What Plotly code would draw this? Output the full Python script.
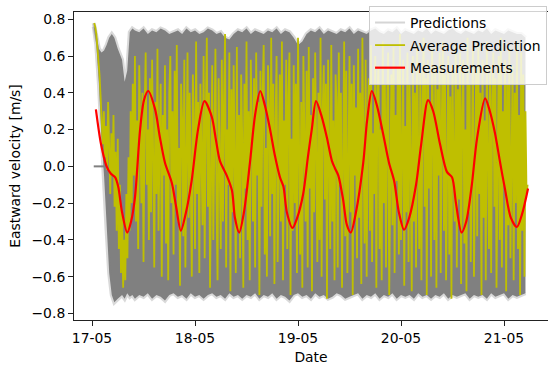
import pandas as pd
import plotly.graph_objects as go

# ---------------- data (hours after 17-05 00:00) ----------------
meas_hours = [0.9, 2.1, 3.4, 4.4, 5.4, 6.1, 7.0, 8.2, 9.1, 10.0, 11.2, 12.1, 13.1, 14.7,
              15.8, 17.0, 18.6, 19.6, 20.7, 21.9, 23.2, 24.7, 26.2, 27.9, 28.9, 29.8,
              31.4, 32.6, 33.3, 34.3, 35.4, 36.8, 38.0, 39.2, 40.3, 41.5, 42.6, 43.8,
              44.6, 45.4, 46.7, 47.8, 49.2, 50.3, 51.2, 52.2, 53.4, 54.7, 55.9, 56.6,
              57.4, 58.5, 59.4, 60.3, 61.5, 63.2, 64.1, 65.2, 66.4, 67.8, 69.2, 70.4,
              71.5, 72.7, 73.9, 75.5, 76.7, 78.3, 79.5, 81.1, 82.7, 83.9, 84.8, 86.1,
              87.2, 88.5, 89.7, 91.6, 92.7, 93.9, 95.1, 96.2, 97.6, 99.0, 100.2, 101.6]
meas_vals = [0.31, 0.12, 0.00, -0.04, -0.06, -0.11, -0.25, -0.36, -0.30, -0.17, 0.20, 0.36,
             0.41, 0.31, 0.16, 0.02, -0.09, -0.22, -0.35, -0.25, -0.08, 0.20, 0.355, 0.27,
             0.14, 0.03, -0.05, -0.13, -0.28, -0.36, -0.25, 0.02, 0.28, 0.41, 0.33, 0.20,
             0.06, -0.06, -0.11, -0.25, -0.335, -0.28, -0.15, 0.05, 0.20, 0.355, 0.28, 0.16,
             0.03, -0.01, -0.05, -0.18, -0.32, -0.36, -0.25, 0.02, 0.25, 0.41, 0.33, 0.18,
             0.02, -0.08, -0.25, -0.345, -0.28, -0.10, 0.12, 0.36, 0.30, 0.12, -0.03, -0.06,
             -0.20, -0.36, -0.30, -0.10, 0.15, 0.37, 0.30, 0.18, 0.02, -0.12, -0.28, -0.33,
             -0.26, -0.12]

avg_start_hour = 0.5
avg_step_hours = 0.25
avg_vals = [
    0.78, 0.76, 0.72, 0.66, 0.58, 0.50, 0.38, 0.25, 0.12, 0.30, 0.05, 0.22, -0.02, 0.35, 0.10,
    -0.15, 0.18, -0.05, 0.28, -0.22, 0.08, -0.35, 0.15, -0.45, -0.10, -0.58, -0.25, -0.66, -0.40,
    -0.62, -0.15, -0.50, 0.05, -0.35, 0.30, -0.20, 0.45, -0.05,
    0.60, -0.30, 0.25, -0.45, 0.55, 0.10, -0.20, 0.40, -0.52, 0.30, 0.62, -0.10, 0.20, -0.40, 0.48,
    -0.25, 0.58, 0.05, -0.55, 0.35, -0.15, 0.64, -0.35, 0.15, 0.45, -0.60, 0.28, -0.05, 0.55, -0.42,
    0.20, -0.62, 0.40, 0.60, -0.20, 0.30, -0.48, 0.52, -0.10, 0.66, -0.30, 0.10, -0.65, 0.45, 0.25,
    -0.38, 0.58, -0.55, 0.15, 0.62, -0.28, 0.40, -0.05, -0.60, 0.50, 0.20, -0.45, 0.68, -0.15, 0.35,
    -0.58, 0.45, 0.05, -0.32, 0.60, -0.50, 0.25, 0.70, -0.22, 0.40, -0.66, 0.12, 0.55, -0.40, 0.30,
    0.64, -0.18, -0.62, 0.48, 0.10, -0.45, 0.58, -0.30, 0.35, 0.72, -0.55, 0.20, -0.10, 0.62, -0.68,
    0.42, -0.25, 0.55, 0.00, -0.58, 0.65, -0.35, 0.28, -0.50, 0.50, 0.15, -0.66, 0.45, -0.12, 0.68,
    -0.40, 0.30, -0.62, 0.58, 0.20, -0.30, 0.48, -0.55, 0.62, -0.05, 0.35, -0.70, 0.52, -0.22, 0.40,
    0.66, -0.48, 0.10, -0.60, 0.55, 0.30, -0.38, 0.70, -0.15, 0.45, -0.64, 0.22, 0.60, -0.52, 0.05,
    0.50, -0.30, 0.68, -0.62, 0.25, -0.10, 0.58, -0.45, 0.38, 0.62, -0.70, 0.15, -0.35, 0.55, -0.20,
    0.45, -0.58, 0.70, 0.00, -0.48, 0.35, -0.66, 0.60, 0.20, -0.30, 0.52, -0.55, 0.65, -0.12, 0.28,
    -0.68, 0.48, -0.25, 0.62, 0.10, -0.52, 0.40, -0.40, 0.70, -0.60, 0.30, 0.55, -0.18, 0.45, -0.72,
    0.58, 0.05, -0.45, 0.66, -0.30, 0.25, -0.62, 0.50, 0.35, -0.55, 0.62, -0.10, 0.40, -0.66, 0.20,
    0.68, -0.38, 0.52, -0.58, 0.15, 0.60, -0.25, 0.45, -0.70, 0.55, -0.05, 0.32, -0.50, 0.64, -0.28,
    0.40, -0.64, 0.70, 0.10, -0.42, 0.58, -0.60, 0.25, 0.48, -0.35, 0.66, -0.52, 0.18, -0.15, 0.60,
    -0.66, 0.38, 0.55, -0.45, 0.20, -0.62, 0.68, -0.20, 0.45, -0.55, 0.30, 0.62, -0.70, 0.12, 0.50,
    -0.32, 0.65, -0.58, 0.28, -0.08, 0.55, -0.48, 0.72, -0.40, 0.35, 0.58, -0.65, 0.22, -0.25, 0.62,
    -0.52, 0.45, 0.05, -0.68, 0.60, -0.30, 0.40, -0.55, 0.66, 0.15, -0.45, 0.52, -0.62, 0.30, 0.70,
    -0.22, 0.48, -0.70, 0.58, -0.12, 0.35, -0.60, 0.64, 0.20, -0.40, 0.55, -0.66, 0.42, -0.05, 0.62,
    -0.58, 0.25, 0.68, -0.35, 0.50, -0.62, 0.15, 0.60, -0.48, 0.38, -0.72, 0.55, 0.00, -0.30, 0.66,
    -0.55, 0.42, -0.18, 0.62, -0.64, 0.30, 0.58, -0.42, 0.20, -0.68, 0.70, -0.25, 0.45, -0.52, 0.35,
    0.64, -0.60, 0.10, 0.52, -0.38, 0.66, -0.15, 0.40, -0.70, 0.58, -0.28, 0.25, -0.62, 0.68, 0.05,
    -0.45, 0.55, -0.58, 0.35, 0.62, -0.22, 0.48, -0.66, 0.20, 0.60, -0.40, 0.70, -0.55, 0.30, -0.10,
    0.58, -0.68, 0.45, -0.32, 0.65, -0.50, 0.15, 0.55, -0.62, 0.40, -0.20, 0.68, -0.45, 0.28, -0.70,
    0.62, -0.35, 0.50, -0.60, 0.30, -0.15, -0.10,
]

env_hours = [0.4, 1.0, 1.6, 2.2, 2.8, 3.4, 4.0, 4.6, 5.2, 6.0, 7.0, 7.6, 8.2, 8.8, 9.4] + list(range(10, 102))
env_upper = [0.78, 0.72, 0.64, 0.62, 0.63, 0.66, 0.70, 0.72, 0.70, 0.64, 0.58, 0.46, 0.52, 0.73, 0.75,
             0.74, 0.73, 0.75, 0.72, 0.74, 0.73, 0.75, 0.74, 0.72, 0.73,
             0.74, 0.72, 0.75, 0.73, 0.74, 0.72, 0.73, 0.75, 0.74, 0.72,
             0.73, 0.70, 0.69, 0.72, 0.74, 0.73, 0.75, 0.72, 0.74, 0.73,
             0.72, 0.74, 0.73, 0.75, 0.72, 0.74, 0.73, 0.70, 0.66, 0.68,
             0.72, 0.74, 0.73, 0.75, 0.72, 0.74, 0.73, 0.72, 0.74, 0.73,
             0.75, 0.72, 0.74, 0.73, 0.72, 0.74, 0.75, 0.73, 0.72, 0.74,
             0.73, 0.75, 0.72, 0.74, 0.73, 0.72, 0.74, 0.73, 0.75, 0.72,
             0.74, 0.73, 0.72, 0.74, 0.75, 0.73, 0.72, 0.74, 0.73, 0.72,
             0.74, 0.73, 0.75, 0.72, 0.74, 0.73, 0.72, 0.74, 0.73, 0.72,
             0.72, 0.70]
env_lower = [0.76, 0.66, 0.45, 0.15, -0.05, -0.35, -0.58, -0.70, -0.74, -0.72, -0.70, -0.72, -0.69, -0.71, -0.70,
             -0.72, -0.70, -0.71, -0.69, -0.72, -0.70, -0.71, -0.73, -0.70, -0.69,
             -0.71, -0.70, -0.72, -0.69, -0.71, -0.70, -0.72, -0.70, -0.69, -0.71,
             -0.70, -0.72, -0.69, -0.71, -0.70, -0.72, -0.70, -0.71, -0.69, -0.72,
             -0.70, -0.71, -0.69, -0.72, -0.70, -0.71, -0.73, -0.70, -0.69, -0.71,
             -0.70, -0.72, -0.69, -0.71, -0.70, -0.72, -0.71, -0.69, -0.70, -0.72,
             -0.71, -0.70, -0.69, -0.72, -0.70, -0.71, -0.69, -0.72, -0.70, -0.71,
             -0.69, -0.72, -0.70, -0.71, -0.70, -0.72, -0.69, -0.71, -0.70, -0.72,
             -0.70, -0.71, -0.69, -0.72, -0.70, -0.71, -0.70, -0.69, -0.72, -0.70,
             -0.71, -0.70, -0.72, -0.69, -0.71, -0.70, -0.69, -0.72, -0.70, -0.71,
             -0.70, -0.69]

flat_hours = [0.4, 2.8]
flat_vals = [0.0, 0.0]

date_ticks = ["2023-05-17", "2023-05-18", "2023-05-19", "2023-05-20", "2023-05-21"]
y_ticks = [-0.8, -0.6, -0.4, -0.2, 0.0, 0.2, 0.4, 0.6, 0.8]

# ---------------- build ----------------
base = pd.Timestamp("2023-05-17 00:00")


def to_time(hours):
    return [base + pd.Timedelta(hours=h) for h in hours]


avg_hours = [avg_start_hour + i * avg_step_hours for i in range(len(avg_vals))]

FONT = "DejaVu Sans"
GRAY = "#808080"
fig = go.Figure()

env_t = to_time(env_hours)
fig.add_trace(go.Scatter(x=env_t, y=env_lower, mode="lines", line=dict(width=0, color=GRAY),
                         showlegend=False, hoverinfo="skip"))
fig.add_trace(go.Scatter(x=env_t, y=env_upper, mode="lines", line=dict(width=0, color=GRAY),
                         fill="tonexty", fillcolor=GRAY, showlegend=False, hoverinfo="skip"))
for arr in (env_upper, env_lower):
    fig.add_trace(go.Scatter(x=env_t, y=arr, mode="lines",
                             line=dict(width=4, color="rgba(128,128,128,0.3)"),
                             showlegend=False, hoverinfo="skip"))
fig.add_trace(go.Scatter(x=to_time(flat_hours), y=flat_vals, mode="lines",
                         line=dict(width=2, color=GRAY), showlegend=False, hoverinfo="skip"))

fig.add_trace(go.Scatter(x=[None], y=[None], mode="lines", name="Predictions",
                         line=dict(width=2, color="#d5d5d5"), legendgroup="a"))
fig.add_trace(go.Scatter(x=to_time(avg_hours), y=avg_vals, mode="lines", name="Average Prediction",
                         line=dict(width=1.8, color="#bfbf00"), legendgroup="b"))
fig.add_trace(go.Scatter(x=to_time(meas_hours), y=meas_vals, mode="lines", name="Measurements",
                         line=dict(width=2.2, color="#ff0000", shape="spline", smoothing=0.8),
                         legendgroup="c"))

title_font = dict(family=FONT, size=13.9, color="#000000")
fig.update_layout(
    width=548, height=365,
    margin=dict(l=74, r=0, t=12, b=45),
    paper_bgcolor="white", plot_bgcolor="white",
    font=dict(family=FONT, size=13.9, color="#000000"),
    showlegend=True,
    legend=dict(x=0.998, y=1.0195, xanchor="right", yanchor="top",
                bgcolor="rgba(255,255,255,0.8)", bordercolor="#cccccc", borderwidth=1,
                font=dict(family=FONT, size=13.9, color="#000000"),
                traceorder="grouped", tracegroupgap=1.5, itemwidth=30),
    xaxis=dict(
        range=["2023-05-16 19:48", "2023-05-21 10:15"],
        tickvals=date_ticks, tickformat="%d-%m",
        showgrid=False, zeroline=False,
        showline=True, linecolor="#222222", linewidth=1, mirror=True,
        ticks="outside", ticklen=5, tickwidth=1, tickcolor="#222222",
        title=dict(text="Date", standoff=8, font=title_font),
    ),
    yaxis=dict(
        range=[-0.836, 0.84],
        tickvals=y_ticks, tickformat=".1f",
        showgrid=False, zeroline=False,
        showline=True, linecolor="#222222", linewidth=1,
        ticks="outside", ticklen=5, tickwidth=1, tickcolor="#222222",
        title=dict(text="Eastward velocity [m/s]", standoff=7, font=title_font),
    ),
)

fig.write_html("out.html")
